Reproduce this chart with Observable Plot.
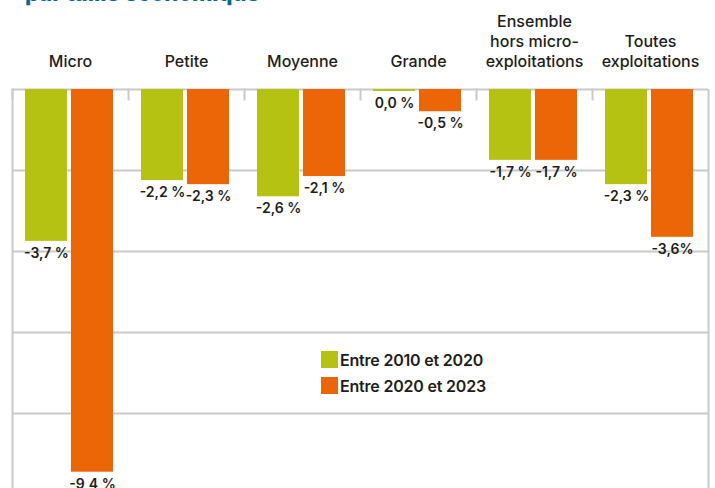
<!DOCTYPE html>
<html>
<head>
<meta charset="utf-8">
<script src="https://cdn.jsdelivr.net/npm/d3@7"></script>
<script src="https://cdn.jsdelivr.net/npm/@observablehq/plot@0.6"></script>
<style>
  html, body { margin: 0; padding: 0; background: #fff; }
  #wrap { position: relative; width: 715px; height: 488px; overflow: hidden; font-family: Inter, "Noto Sans", sans-serif; }
  #title { position: absolute; left: 25px; top: -19px; font-size: 22px; font-weight: 800; line-height: 24px; color: #0b6a8b; white-space: nowrap; }
  #chart { position: absolute; left: 0; top: 0; }
  #legend { position: absolute; left: 321px; top: 351px; font-size: 16px; font-weight: 600; color: #1d1d1b; letter-spacing: -0.2px; }
  #legend .row { display: flex; align-items: center; height: 17px; margin-bottom: 9px; }
  #legend .sw { width: 17px; height: 17px; margin-right: 2px; }
</style>
</head>
<body>
<div id="wrap">
  <div id="title">par taille économique</div>
  <div id="chart"></div>
  <div id="legend"></div>
</div>
<script>
// ---- data ----
const categories = ["Micro", "Petite", "Moyenne", "Grande", "Ensemble\nhors micro-\nexploitations", "Toutes\nexploitations"];
const series = ["Entre 2010 et 2020", "Entre 2020 et 2023"];
const values2010_2020 = [-3.7, -2.2, -2.6, 0.0, -1.7, -2.3];
const values2020_2023 = [-9.4, -2.3, -2.1, -0.5, -1.7, -3.6];
const labels2010_2020 = ["-3,7 %", "-2,2 %", "-2,6 %", "0,0 %", "-1,7 %", "-2,3 %"];
const labels2020_2023 = ["-9,4 %", "-2,3 %", "-2,1 %", "-0,5 %", "-1,7 %", "-3,6%"];
const gridTicks = [0, -2, -4, -6, -8];
const colors = ["#b5c212", "#ec6608"];

// ---- table built from arrays ----
const rows = [];
categories.forEach((c, i) => {
  rows.push({cat: c, serie: series[0], value: values2010_2020[i], label: labels2010_2020[i]});
  rows.push({cat: c, serie: series[1], value: values2020_2023[i], label: labels2020_2023[i]});
});

// ---- layout constants ----
const W = 715, H = 488;
const mTop = 89, mLeft = 12, mRight = 7, mBottom = 0;
const facetW = (W - mLeft - mRight) / categories.length; // 116
const barW = 42, gap = 4, padL = 13, padR = 15;
const step = barW + gap;
const paddingInner = gap / step;
const paddingOuter = (facetW - step * (2 - paddingInner)) / 2 / step;
const align = padL / (facetW - step * (2 - paddingInner));
const pxPerUnit = 40.5;
const yMin = -(H - mTop - mBottom) / pxPerUnit;
const gridColor = "#c9c9c9";
const textColor = "#1d1d1b";

const chart = Plot.plot({
  width: W,
  height: H,
  marginTop: mTop,
  marginLeft: mLeft,
  marginRight: mRight,
  marginBottom: mBottom,
  style: {fontFamily: "Inter, 'Noto Sans', sans-serif", background: "transparent"},
  fx: {domain: categories, padding: 0, label: null},
  x: {domain: series, paddingInner, paddingOuter, align, axis: null},
  y: {domain: [yMin, 0], axis: null},
  color: {domain: series, range: colors},
  marks: [
    Plot.ruleY(gridTicks, {stroke: gridColor, strokeWidth: 2}),
    Plot.frame({anchor: "left", stroke: gridColor, strokeWidth: 2, insetBottom: H - mTop - mBottom - 10}),
    Plot.ruleX([categories[0]], {fx: d => d, x: () => series[0], dx: -(padL + barW / 2), stroke: gridColor, strokeWidth: 2}),
    Plot.ruleX([categories[categories.length - 1]], {fx: d => d, x: () => series[1], dx: padR + barW / 2, stroke: gridColor, strokeWidth: 2}),
    Plot.barY(rows, {fx: "cat", x: "serie", y: "value", fill: "serie", insetBottom: -2}),
    Plot.text(rows, {fx: "cat", x: "serie", y: "value", text: "label", dy: 14, fontSize: 14, fontWeight: 600, fill: textColor, letterSpacing: "-0.2px"}),
    Plot.axisFx({anchor: "top", label: null, tickSize: 0, tickPadding: 23, fontSize: 16, fontWeight: 500, lineHeight: 1.25, lineAnchor: "bottom", fill: textColor})
  ]
});
document.getElementById("chart").appendChild(chart);

// ---- legend ----
const legend = document.getElementById("legend");
series.forEach((s, i) => {
  const row = document.createElement("div");
  row.className = "row";
  const sw = document.createElement("div");
  sw.className = "sw";
  sw.style.background = colors[i];
  const t = document.createElement("span");
  t.textContent = s;
  row.appendChild(sw);
  row.appendChild(t);
  legend.appendChild(row);
});
</script>
</body>
</html>
